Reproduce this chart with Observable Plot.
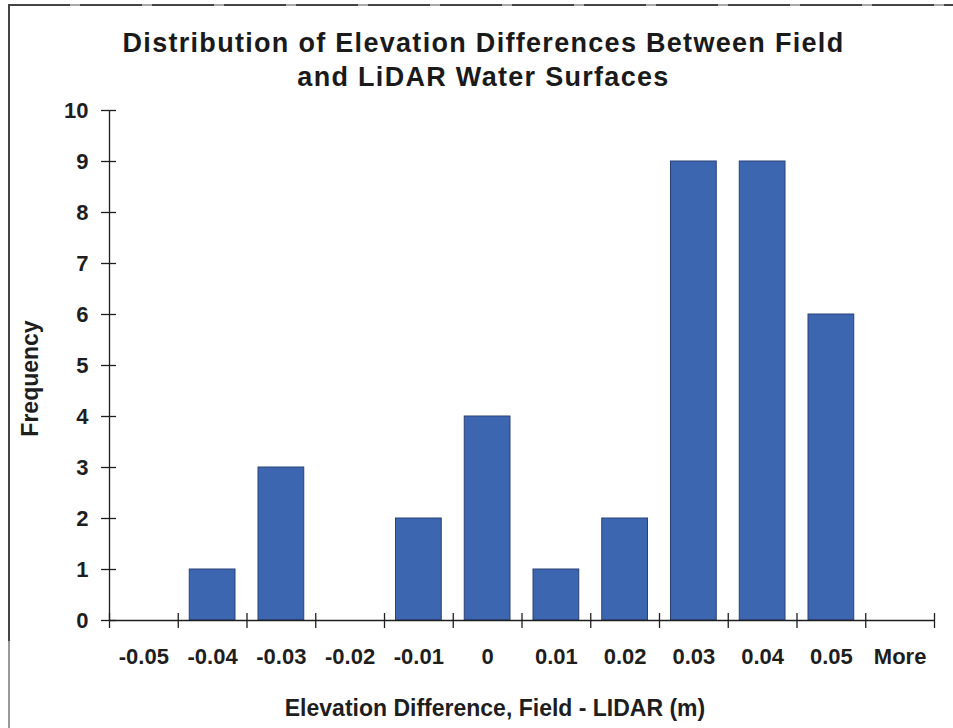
<!DOCTYPE html>
<html>
<head>
<meta charset="utf-8">
<script src="https://cdn.jsdelivr.net/npm/d3@7"></script>
<script src="https://cdn.jsdelivr.net/npm/@observablehq/plot@0.6"></script>
<style>
  body { margin: 0; background: #fff; }
  #page { position: relative; width: 953px; height: 728px; overflow: hidden; background: #fff;
          font-family: "Liberation Sans", Arial, sans-serif; }
  #title { position: absolute; top: 26px; left: 7px; width: 953px; text-align: center;
           font-weight: bold; font-size: 27px; line-height: 34px; letter-spacing: 1.3px; color: #1a1a1a; }
  #edge-top { position: absolute; left: 8px; right: 0; top: 4px; height: 2px;
              background: repeating-linear-gradient(90deg, #444 0 62px, #aaa 62px 72px); }
  #edge-left { position: absolute; left: 8px; top: 4px; bottom: 0; width: 2px;
               background: linear-gradient(#444 0 88%, #999 88% 100%); }
  #chart { position: absolute; left: 0; top: 0; }
</style>
</head>
<body>
<div id="page">
  <div id="edge-top"></div>
  <div id="edge-left"></div>
  <div id="chart"></div>
  <div id="title">Distribution of Elevation Differences Between Field<br>and LiDAR Water Surfaces</div>
</div>
<script>
// Histogram bins (upper bin limits, metres) and their counts
const bins = ["-0.05", "-0.04", "-0.03", "-0.02", "-0.01", "0", "0.01", "0.02", "0.03", "0.04", "0.05", "More"];
const frequency = [0, 1, 3, 0, 2, 4, 1, 2, 9, 9, 6, 0];
const yTicks = [0, 1, 2, 3, 4, 5, 6, 7, 8, 9, 10];
const xTitle = "Elevation Difference, Field - LIDAR (m)";
const yTitle = "Frequency";

const rows = bins.map((bin, i) => ({bin, i, count: frequency[i]}));
const boundaries = d3.range(bins.length + 1);
const ink = "#1e1e1e";

const chart = Plot.plot({
  width: 953,
  height: 728,
  marginTop: 110,
  marginBottom: 108,
  marginLeft: 109,
  marginRight: 19,
  style: {
    fontFamily: "'Liberation Sans', Arial, sans-serif",
    fontWeight: "bold",
    fontSize: "22px",
    color: ink,
    background: "transparent"
  },
  x: {domain: [0, bins.length], axis: null},
  y: {domain: [0, 10], axis: null},
  marks: [
    Plot.rectY(rows.filter(d => d.count > 0), {
      x1: "i", x2: d => d.i + 1, y: "count",
      insetLeft: 11.5, insetRight: 11.5,
      fill: "#3d66b1", stroke: "#2a4177", strokeWidth: 1
    }),
    // axis lines
    Plot.ruleY([0], {stroke: ink, strokeWidth: 1.3}),
    Plot.ruleX([0], {y1: 0, y2: 10, stroke: ink, strokeWidth: 1.3}),
    // crossing tick marks at the bin boundaries and at each count
    Plot.ruleX(boundaries, {x: d => d, y1: 0, y2: 0, insetTop: -7, insetBottom: -8, stroke: ink, strokeWidth: 1.3}),
    Plot.ruleY(yTicks, {y: d => d, x1: 0, x2: 0, insetLeft: -8, insetRight: -7, stroke: ink, strokeWidth: 1.3}),
    // bin labels centred in each band
    Plot.axisX(rows.map(d => d.i + 0.5), {
      tickFormat: d => bins[Math.floor(d)],
      tickSize: 0, tickPadding: 28, label: null, fontSize: 22
    }),
    Plot.axisY(yTicks, {tickFormat: d => String(d), tickSize: 0, tickPadding: 21, label: null, fontSize: 22}),
    // axis titles
    Plot.text([xTitle], {frameAnchor: "bottom", textAnchor: "middle", dx: -27, dy: 88, lineAnchor: "middle", fontSize: 23, ariaLabel: "x-title"}),
    Plot.text([yTitle], {frameAnchor: "left", textAnchor: "middle", rotate: -90, dx: -79, dy: 13, lineAnchor: "middle", fontSize: 23, ariaLabel: "y-title"})
  ]
});

document.getElementById("chart").appendChild(chart);
for (const t of chart.querySelectorAll('[aria-label="x-title"] text, [aria-label="y-title"] text')) {
  t.style.letterSpacing = "0.5px";
}
</script>
</body>
</html>
